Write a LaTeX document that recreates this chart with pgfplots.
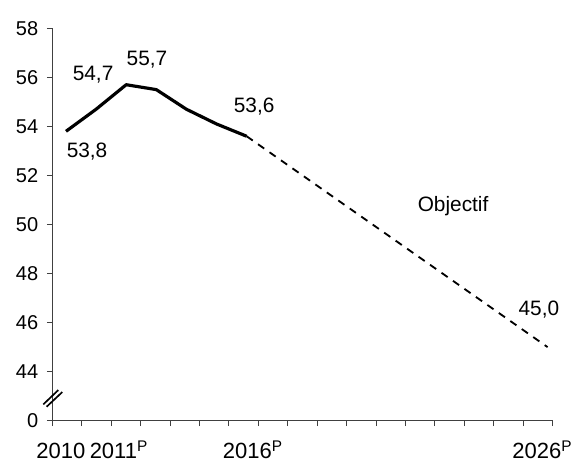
\documentclass[border=0pt]{standalone}
\usepackage{fontspec}
\setmainfont{Liberation Sans}
\usepackage{pgfplots}
\pgfplotsset{compat=1.18}
\begin{document}
\fontsize{12.5}{15}\selectfont
\begin{tikzpicture}
\begin{axis}[
	scale only axis,
	width=300.24pt,
	height=235.44pt,
	xmin=2009.545, xmax=2026.17,
	ymin=42, ymax=58,
	axis lines=left,
	axis line style={-, draw=black!75, line width=0.6pt},
	tick align=outside,
	major tick length=3.3pt,
	tick style={draw=black!75, line width=0.6pt},
	xtick={2009.545,2010.523,2011.501,2012.479,2013.457,2014.435,2015.413,2016.391,2017.368,
		2018.346,2019.324,2020.302,2021.280,2022.258,2023.236,2024.214,2025.192,2026.170},
	xticklabels={},
	extra x ticks={2009.83,2011.76,2016.21,2025.83},
	extra x tick labels={2010,2011\textsuperscript{P},2016\textsuperscript{P},2026\textsuperscript{P}},
	extra x tick style={major tick length=0pt, xticklabel style={anchor=base, inner sep=1pt, yshift=-22.6pt, font=\fontsize{13.2}{15}\selectfont}},
	ytick={42,44,...,58},
	yticklabels={0,44,46,48,50,52,54,56,58},
	yticklabel style={xshift=-0.8pt, font=\fontsize{12}{14}\selectfont},
	/pgf/number format/assume math mode=true,
	clip=false,
]
	\coordinate (bl) at (rel axis cs:0,0);
	\coordinate (tr) at (rel axis cs:1,1);

	% observed
	\addplot[black, line width=1.9pt, line join=round] coordinates {
		(2010,53.8) (2011,54.7) (2012,55.7) (2013,55.5) (2014,54.7) (2015,54.1) (2016,53.6)
	};
	% objective
	\addplot[black, line width=1.1pt, dash pattern=on 4.5pt off 3.9pt] coordinates {
		(2016,53.6) (2026,45.0)
	};

	\node at (axis cs:2010.70,52.97) {53,8};
	\node at (axis cs:2010.90,56.10) {54,7};
	\node at (axis cs:2012.69,56.71) {55,7};
	\node at (axis cs:2016.25,54.80) {53,6};
	\node at (axis cs:2022.86,50.77) {Objectif};
	\node at (axis cs:2025.71,46.53) {45,0};

	% axis break
	\draw[line width=1pt] ([shift={(-5.4pt,-3.6pt)}]axis cs:2009.545,42.91) -- ([shift={(3.6pt,5pt)}]axis cs:2009.545,42.91);
	\draw[line width=1pt] ([shift={(-3.4pt,-5pt)}]axis cs:2009.545,42.91) -- ([shift={(6pt,3.8pt)}]axis cs:2009.545,42.91);
\end{axis}
\pgfresetboundingbox
\path[use as bounding box] ([shift={(-31.38pt,-24.18pt)}]bl) rectangle ([shift={(12.18pt,16.98pt)}]tr);
\end{tikzpicture}
\end{document}
